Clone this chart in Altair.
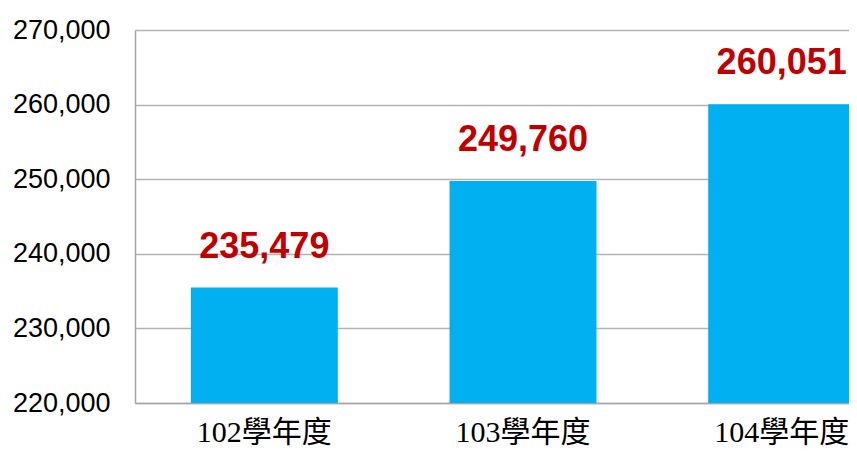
import altair as alt
import pandas as pd

years = ["102學年度", "103學年度", "104學年度"]
students = [235479, 249760, 260051]
labels = ["235,479", "249,760", "260,051"]
y_ticks = [220000, 230000, 240000, 250000, 260000, 270000]

df = pd.DataFrame({"year": years, "students": students, "label": labels})

x_enc = alt.X(
    "year:N",
    sort=years,
    scale=alt.Scale(range=[0, 776], paddingInner=0.432, paddingOuter=0.216),
    axis=alt.Axis(
        title=None,
        labelAngle=0,
        ticks=False,
        labelPadding=38,
        labelBaseline="alphabetic",
        labelFont="Liberation Serif, Noto Sans CJK TC",
        labelFontSize=30,
        labelColor="black",
        domainColor="#a6a6a6",
        domainWidth=1.5,
        grid=False,
    ),
)
y_enc = alt.Y(
    "students:Q",
    scale=alt.Scale(domain=[220000, 270000], zero=False, nice=False),
    axis=alt.Axis(
        title=None,
        values=y_ticks,
        format=",d",
        ticks=False,
        labelPadding=25,
        labelFont="Liberation Sans",
        labelFontSize=27,
        labelColor="black",
        domainColor="#a6a6a6",
        domainWidth=1.5,
        grid=True,
        gridColor="#b3b3b3",
        gridWidth=1.5,
    ),
)

bars = alt.Chart(df).mark_bar(color="#00B0F0", clip=True).encode(x=x_enc, y=y_enc)
text = alt.Chart(df).mark_text(
    color="#C00000",
    font="Liberation Sans",
    fontSize=36,
    fontWeight="bold",
    baseline="alphabetic",
    dy=-30,
    clip=True,
).encode(x=alt.X("year:N", sort=years), y="students:Q", text="label:N")

chart = (
    alt.layer(bars, text)
    .properties(
        width=714,
        height=373,
        autosize=alt.AutoSizeParams(type="none"),
        padding={"left": 127, "top": 22, "right": 0, "bottom": 43},
    )
    .configure_view(stroke=None)
    .configure(background="white")
)

chart.save("out.html", embed_options={"renderer": "svg", "actions": False})
